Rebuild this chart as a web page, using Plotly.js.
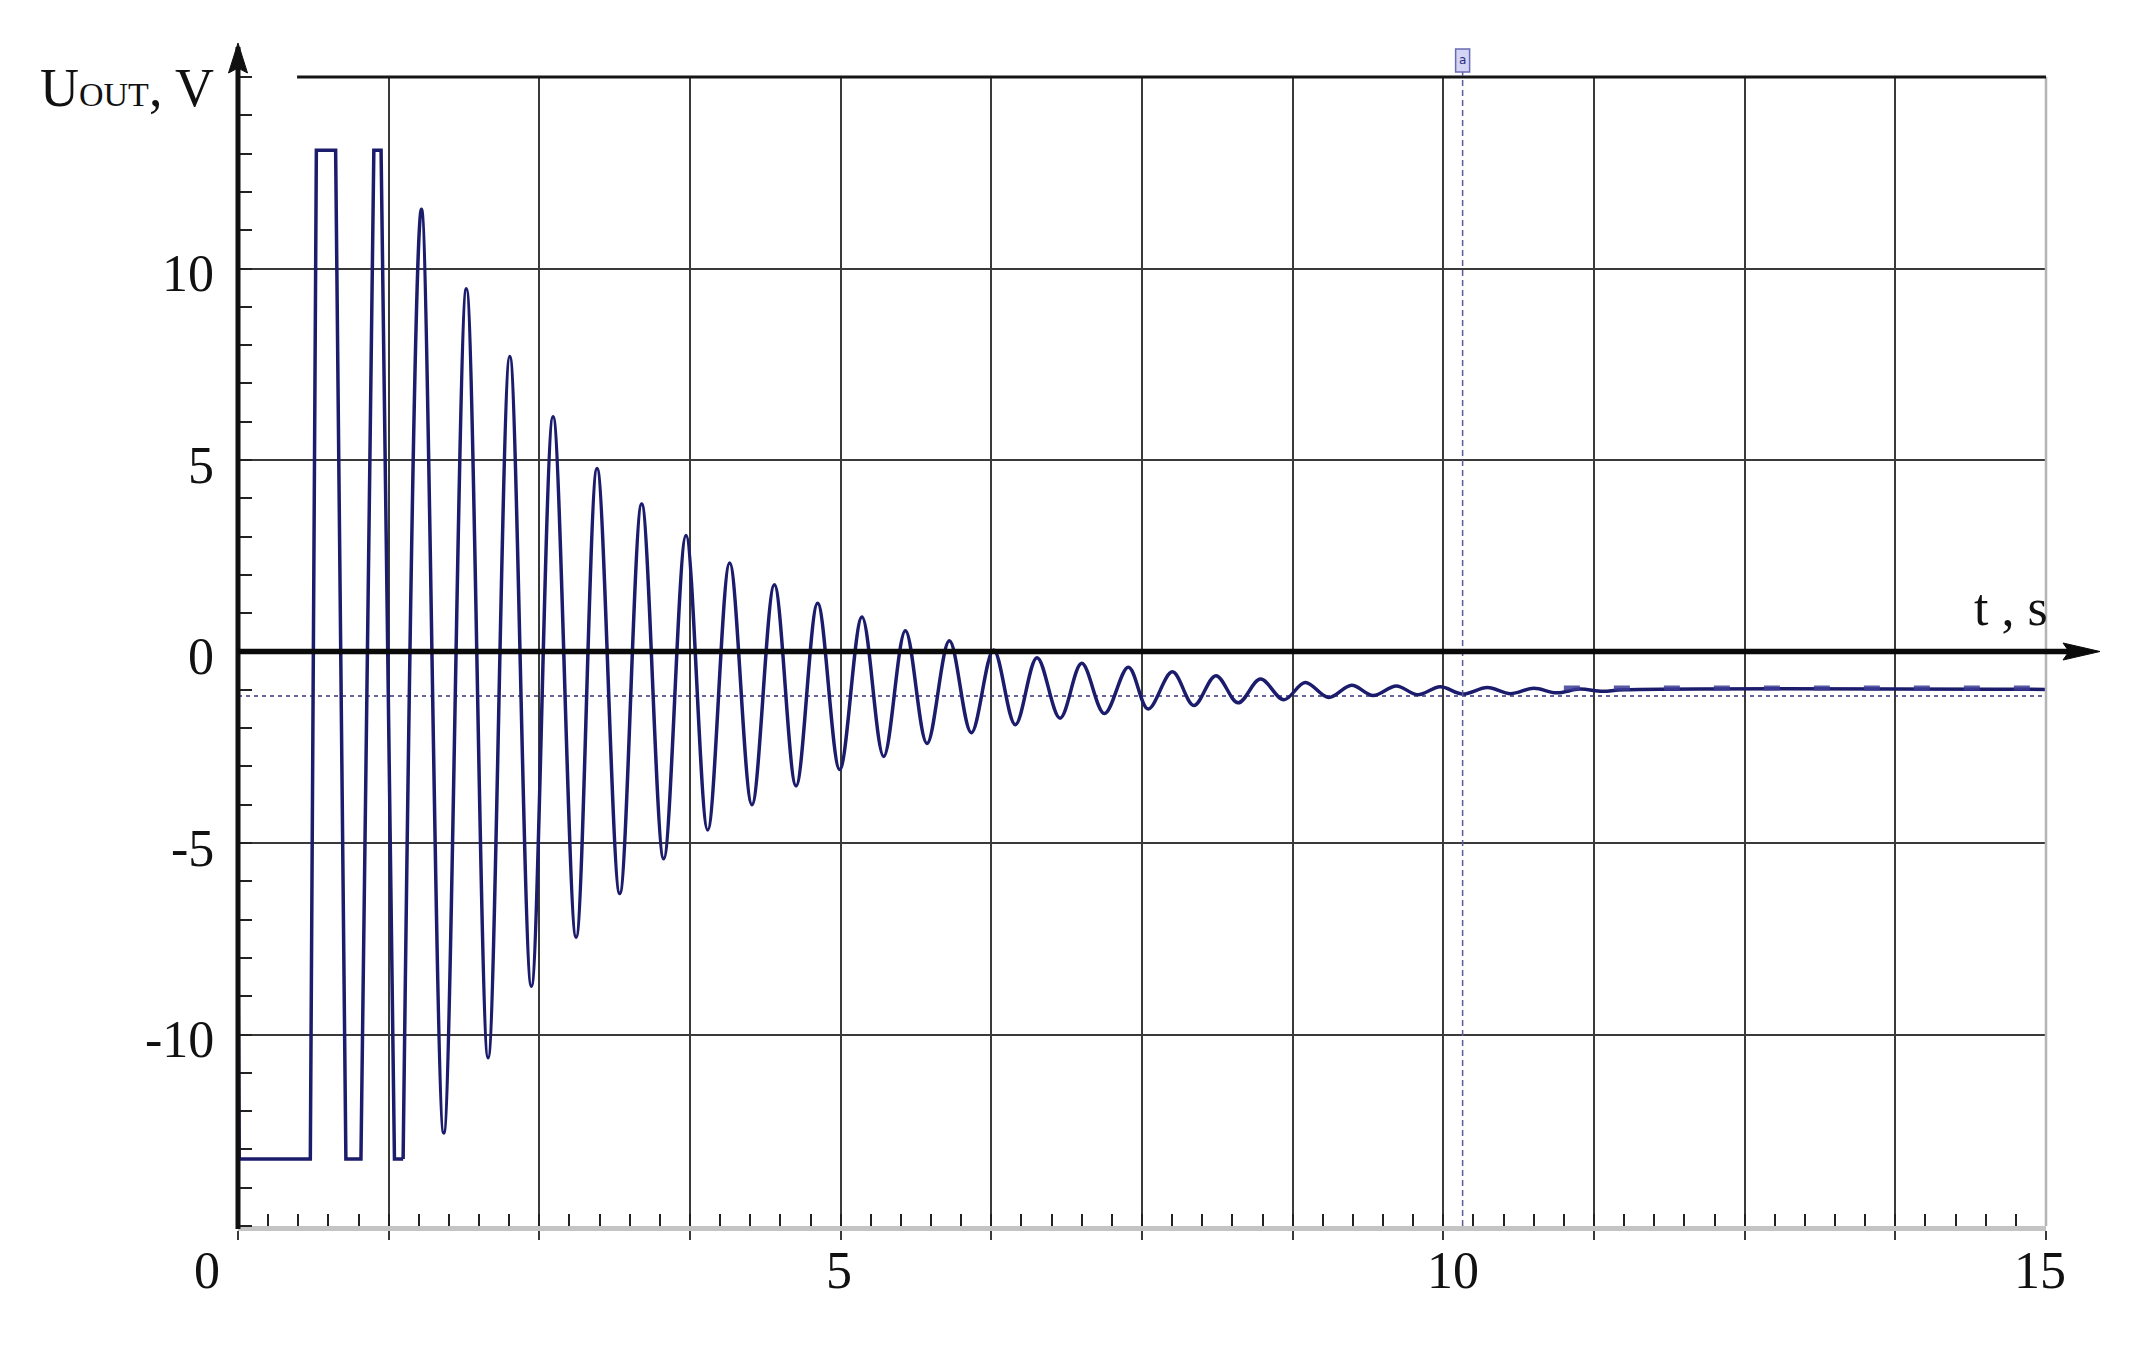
<!DOCTYPE html>
<html>
<head>
<meta charset="utf-8">
<script src="https://cdn.plot.ly/plotly-3.0.1.min.js"></script>
<style>
  html, body { margin: 0; padding: 0; background: #fff; }
  #chart { width: 2140px; height: 1351px; }
</style>
</head>
<body>
<div id="chart"></div>
<script>
// saturated start of the transient (limiter at about +/-13 V)
const tSat = [0, 0.01, 0.60, 0.65, 0.81, 0.895, 1.02, 1.127, 1.187, 1.298, 1.37];
const uSat = [-7.4, -13.25, -13.25, 13.09, 13.09, -13.25, -13.25, 13.09, 13.09, -13.25, -13.25];

// damped oscillation, peaks and troughs
const tOsc = [1.37, 1.522, 1.707, 1.895, 2.075, 2.255, 2.434, 2.614, 2.805, 2.979,
              3.167, 3.349, 3.532, 3.717, 3.897, 4.079, 4.264, 4.450, 4.630, 4.809,
              4.992, 5.177, 5.357, 5.537, 5.716, 5.902, 6.084, 6.269, 6.449, 6.629,
              6.82, 7.0, 7.188, 7.387, 7.551, 7.752, 7.93, 8.113, 8.297, 8.483,
              8.676, 8.854, 9.047, 9.239, 9.417, 9.610, 9.787, 9.974, 10.16, 10.365,
              10.557, 10.75, 10.94, 11.13, 11.32, 11.5, 15];
const uOsc = [-13.25, 11.55, -12.57, 9.47, -10.61, 7.70, -8.74, 6.13, -7.46, 4.78,
              -6.32, 3.85, -5.41, 3.03, -4.66, 2.31, -4.00, 1.74, -3.51, 1.26,
              -3.08, 0.90, -2.74, 0.54, -2.40, 0.28, -2.12, 0.04, -1.91, -0.16,
              -1.74, -0.31, -1.62, -0.41, -1.50, -0.53, -1.41, -0.63, -1.34, -0.72,
              -1.26, -0.81, -1.20, -0.88, -1.15, -0.90, -1.13, -0.92, -1.11, -0.94,
              -1.10, -0.96, -1.08, -0.98, -1.04, -1.0, -0.99];

// steady state tail drawn with the coarse dashes of the original
const tTail = [11.0, 15];
const uTail = [-0.95, -0.95];

const uLevel = -1.16;    // dotted level line
const tCursor = 10.16;   // cursor "a"
const tTopStart = 0.49;  // top frame line starts here

const xTickVals = [0, 5, 10, 15];
const xTickText = ['0', '5', '10', '15'];
const yTickVals = [-10, -5, 0, 5, 10];
const yTickText = ['-10', '-5', '0', '5', '10'];

const W = 2140, H = 1351;
const M = {l: 238, r: 94, t: 77, b: 125};
const PH = H - M.t - M.b;
const PW = W - M.l - M.r;

const serif = 'Liberation Serif, Times New Roman, serif';
const navy = '#1c1c6c';
const grid = '#3a3a3a';

// x label offsets (px) as placed in the original
const xLabelShift = [-31, -2, 10, -6];

var data = [
    {x: [0, 15], y: [uLevel, uLevel], mode: 'lines',
     line: {color: '#34347c', width: 1.6, dash: '4px,4px'}},
    {x: tSat, y: uSat, mode: 'lines',
     line: {color: navy, width: 3.5, shape: 'linear'}},
    {x: tOsc, y: uOsc, mode: 'lines',
     line: {color: navy, width: 3.5, shape: 'spline', smoothing: 1}},
    {x: tTail, y: uTail, mode: 'lines',
     line: {color: 'rgba(60,60,150,0.85)', width: 5, dash: '16px,34px'}}
];

var annotations = [];
yTickVals.forEach((v, i) => {
    annotations.push({
        xref: 'paper', x: 0, xanchor: 'right', xshift: -22,
        yref: 'y', y: v, yanchor: 'middle', yshift: -5,
        text: yTickText[i], showarrow: false,
        font: {family: serif, size: 52, color: '#111'}
    });
});
xTickVals.forEach((v, i) => {
    annotations.push({
        xref: 'x', x: v, xanchor: 'center', xshift: xLabelShift[i],
        yref: 'paper', y: 0, yanchor: 'middle', yshift: -44,
        text: xTickText[i], showarrow: false,
        font: {family: serif, size: 52, color: '#111'}
    });
});
annotations.push({
    xref: 'paper', x: 0, xanchor: 'right', xshift: -22,
    yref: 'paper', y: 1, yanchor: 'middle', yshift: -11,
    text: 'U<span style="font-size:34px">OUT</span>, V', showarrow: false,
    font: {family: serif, size: 54, color: '#111'}
});
annotations.push({
    xref: 'paper', x: 1, xanchor: 'right', xshift: 4,
    yref: 'y', y: 0, yanchor: 'middle', yshift: 44,
    text: 't , s', showarrow: false,
    font: {family: serif, size: 52, color: '#111'}
});
annotations.push({
    xref: 'x', x: tCursor, xanchor: 'center',
    yref: 'paper', y: 1, yanchor: 'middle', yshift: 17,
    text: 'a', showarrow: false,
    font: {family: 'DejaVu Sans', size: 12, color: '#2a2a80'}
});

var shapes = [
    // right frame
    {type: 'line', xref: 'paper', yref: 'paper', x0: 1, x1: 1, y0: 0, y1: 1,
     line: {color: '#b4b4b4', width: 2.5}},
    // top frame
    {type: 'line', xref: 'x', yref: 'paper', x0: tTopStart, x1: 15, y0: 1, y1: 1,
     line: {color: '#151515', width: 3}},
    // cursor
    {type: 'line', xref: 'x', yref: 'paper', x0: tCursor, x1: tCursor, y0: 0, y1: 1 + 6 / PH,
     line: {color: '#5a5a9e', width: 1.5, dash: '6px,4px'}},
    {type: 'rect', xref: 'x', xsizemode: 'pixel', xanchor: tCursor, x0: -7, x1: 7,
     yref: 'paper', ysizemode: 'pixel', yanchor: 1, y0: 5, y1: 28,
     fillcolor: '#d4d4f4', line: {color: '#6a6ab4', width: 1.5}},
    // U axis with arrow
    {type: 'line', xref: 'paper', yref: 'paper', x0: 0, x1: 0, y0: -3 / PH, y1: 1 + 30 / PH,
     line: {color: '#111', width: 5}},
    {type: 'path', xref: 'paper', yref: 'paper', xsizemode: 'pixel', ysizemode: 'pixel',
     xanchor: 0, yanchor: 1, path: 'M 0 34 L -9.5 4 L 0 9 L 9.5 4 Z',
     fillcolor: '#111', line: {color: '#111', width: 1}},
    // t axis with arrow
    {type: 'line', xref: 'paper', yref: 'y', x0: 0, x1: 1 + 36 / PW, y0: 0, y1: 0,
     line: {color: '#0a0a0a', width: 5.5}},
    {type: 'path', xref: 'paper', yref: 'y', xsizemode: 'pixel', ysizemode: 'pixel',
     xanchor: 1, yanchor: 0, path: 'M 54 0 L 17 8.5 L 23 0 L 17 -8.5 Z',
     fillcolor: '#0a0a0a', line: {color: '#0a0a0a', width: 1}}
];

var layout = {
    width: W,
    height: H,
    margin: M,
    showlegend: false,
    paper_bgcolor: '#fff',
    plot_bgcolor: '#fff',
    xaxis: {
        range: [0, 15],
        tickmode: 'linear', tick0: 0, dtick: 1.25,
        showgrid: true, gridcolor: grid, gridwidth: 2,
        zeroline: false,
        showline: true, linecolor: '#c4c4c4', linewidth: 5,
        ticks: 'outside', ticklen: 9, tickwidth: 2, tickcolor: grid,
        showticklabels: false,
        minor: {tickmode: 'linear', tick0: 0, dtick: 0.25, ticks: 'inside',
                ticklen: 12, tickwidth: 2, tickcolor: '#222', showgrid: false}
    },
    yaxis: {
        range: [-15, 15],
        tickmode: 'array', tickvals: [-10, -5, 5, 10],
        showgrid: true, gridcolor: grid, gridwidth: 2,
        zeroline: false, showline: false,
        ticks: '', showticklabels: false,
        minor: {tickmode: 'linear', tick0: 0, dtick: 1, ticks: 'inside',
                ticklen: 14, tickwidth: 2, tickcolor: '#222', showgrid: false}
    },
    annotations: annotations,
    shapes: shapes,
    hovermode: false
};

Plotly.newPlot('chart', data, layout, {staticPlot: true});
</script>
</body>
</html>
